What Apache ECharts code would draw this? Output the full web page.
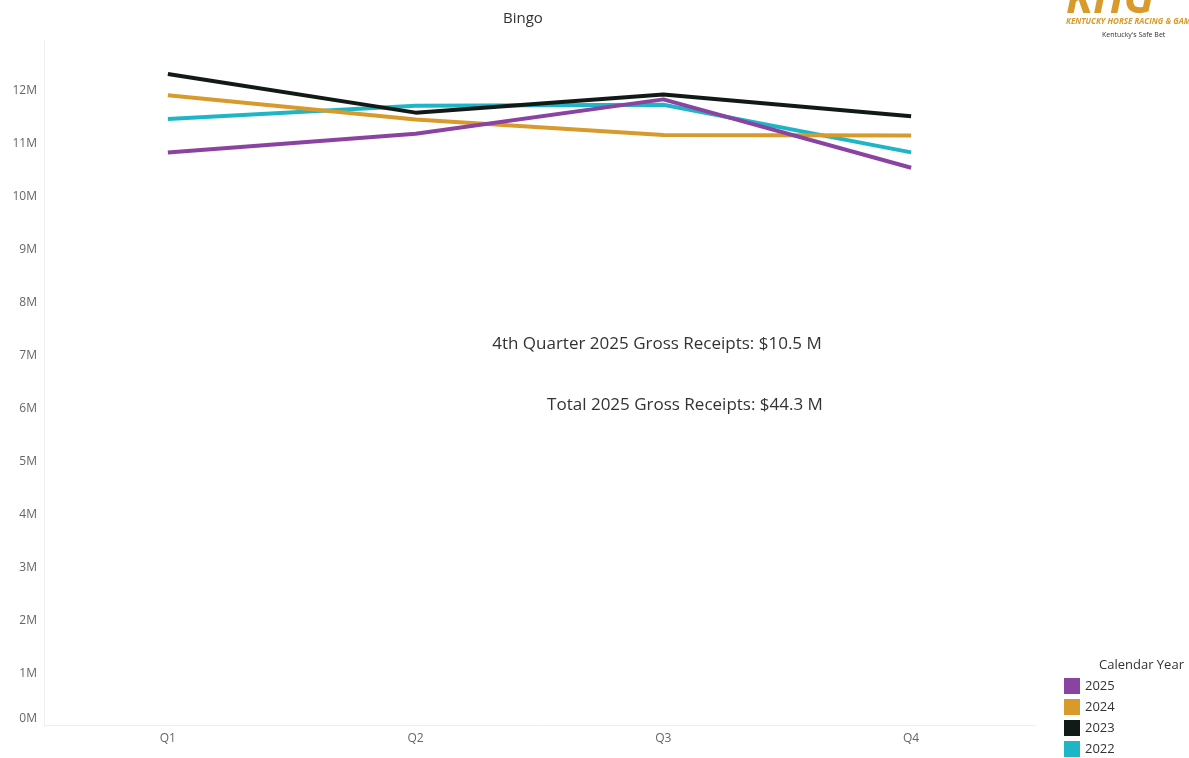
<!DOCTYPE html>
<html>
<head>
<meta charset="utf-8">
<script src="https://cdn.jsdelivr.net/npm/echarts@6/dist/echarts.min.js"></script>
<style>
html,body{margin:0;padding:0;background:#fff;}
#chart{width:1189px;height:758px;}
</style>
</head>
<body>
<div id="chart"></div>
<script>
const categories = ['Q1', 'Q2', 'Q3', 'Q4'];
const years = ['2025', '2024', '2023', '2022'];
const values2025 = [10.80, 11.15, 11.80, 10.51];
const values2024 = [11.88, 11.42, 11.13, 11.12];
const values2023 = [12.28, 11.55, 11.89, 11.48];
const values2022 = [11.43, 11.68, 11.70, 10.80];
const yTicks = [0, 1, 2, 3, 4, 5, 6, 7, 8, 9, 10, 11, 12];
const colors = ['#8a43a0', '#d89a2a', '#111a16', '#1eb6c6'];
const seriesValues = [values2025, values2024, values2023, values2022];

const chart = echarts.init(document.getElementById('chart'));
const font = '"Open Sans", Lato, sans-serif';

chart.setOption({
  animation: false,
  backgroundColor: '#fff',
  title: {
    text: 'Bingo',
    left: 498, top: 6,
    textStyle: { fontFamily: font, fontSize: 15, fontWeight: 'normal', color: '#333' }
  },
  grid: { left: 44, right: 154, top: 40, bottom: 33, containLabel: false },
  xAxis: {
    type: 'category',
    data: categories,
    boundaryGap: true,
    axisLine: { show: true, lineStyle: { color: '#eeeeee' } },
    axisTick: { show: false },
    axisLabel: { fontFamily: font, fontSize: 12, color: '#666', margin: 8 },
    splitLine: { show: false }
  },
  yAxis: {
    type: 'value',
    min: 0, max: 12.92, interval: 1,
    axisLine: { show: true, lineStyle: { color: '#eeeeee' } },
    axisTick: { show: false },
    splitLine: { show: false },
    axisLabel: {
      fontFamily: font, fontSize: 12, color: '#666', margin: 7,
      showMaxLabel: false,
      lineHeight: 14,
      padding: [3, 0, 0, 0],
      formatter: function (v) {
        if (v === 0) return '{z|0M}';
        return yTicks.indexOf(v) >= 0 ? v + 'M' : '';
      },
      rich: { z: { fontFamily: font, fontSize: 12, color: '#666', padding: [0, 0, 16, 0] } }
    }
  },
  legend: {
    orient: 'vertical',
    left: 1064, top: 678,
    padding: 0,
    icon: 'rect',
    itemWidth: 16, itemHeight: 16, itemGap: 5,
    data: years,
    textStyle: { fontFamily: font, fontSize: 13, color: '#333', padding: [0, 0, 0, 0] }
  },
  graphic: [
    { type: 'text', left: 1099, top: 659, style: { text: 'Calendar Year', font: '13px ' + font, fill: '#333' } },
    { type: 'text', x: 657, y: 344, style: { text: '4th Quarter 2025 Gross Receipts: $10.5 M', font: '17px ' + font, fill: '#333', textAlign: 'center', textVerticalAlign: 'middle' } },
    { type: 'text', x: 685, y: 405, style: { text: 'Total 2025 Gross Receipts: $44.3 M', font: '17px ' + font, fill: '#333', textAlign: 'center', textVerticalAlign: 'middle' } },
    { type: 'text', x: 1066, y: -22, style: { text: 'KHG', font: 'italic bold 44px ' + font, fill: '#d89a2a' } },
    { type: 'text', x: 1066, y: 18, style: { text: 'KENTUCKY HORSE RACING & GAMING', font: 'italic bold 8px ' + font, fill: '#d89a2a' } },
    { type: 'text', x: 1102, y: 31, style: { text: "Kentucky's Safe Bet", font: '7px ' + font, fill: '#333' } }
  ],
  series: years.map(function (y, i) {
    return {
      name: y,
      type: 'line',
      data: seriesValues[i],
      showSymbol: false,
      symbol: 'none',
      lineStyle: { width: 4, color: colors[i] },
      itemStyle: { color: colors[i] },
      z: 10 - i
    };
  })
});
</script>
</body>
</html>
